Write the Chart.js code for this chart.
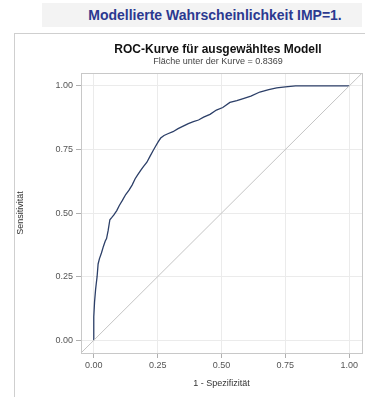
<!DOCTYPE html>
<html>
<head>
<meta charset="utf-8">
<script src="https://cdn.jsdelivr.net/npm/chart.js@4"></script>
<style>
  html, body { margin: 0; padding: 0; background: #fff; overflow: hidden; }
  body { width: 365px; height: 397px; position: relative; font-family: "Liberation Sans", Arial, sans-serif; }
  #head {
    position: absolute; left: 42px; top: 3px; width: 320px; height: 24px;
    background: #f3f3f3; color: #2b3990; font-weight: bold; font-size: 14px;
    line-height: 24px; text-align: center; padding-left: 26px; box-sizing: border-box;
  }
  #panel {
    position: absolute; left: 14px; top: 33px; width: 420px; height: 400px;
    border-left: 1px solid #cfcfcf; border-top: 1px solid #cfcfcf;
  }
  #rocChart { position: absolute; left: 15px; top: 34px; }
</style>
</head>
<body>
<div id="head">Modellierte Wahrscheinlichkeit IMP=1.</div>
<div id="panel"></div>
<canvas id="rocChart" width="406" height="363"></canvas>
<script>
// ROC curve (1 - specificity / sensitivity)
const fpr = [
  0, 0, 0.003, 0.007, 0.010, 0.013, 0.017, 0.022, 0.030, 0.038,
  0.045, 0.050, 0.056, 0.063, 0.070, 0.078, 0.090, 0.100, 0.112, 0.125,
  0.138, 0.150, 0.162, 0.173, 0.185, 0.195, 0.208, 0.220, 0.232, 0.242,
  0.252, 0.262, 0.275, 0.290, 0.310, 0.330, 0.350, 0.370, 0.390, 0.410,
  0.430, 0.455, 0.480, 0.505, 0.533, 0.560, 0.585, 0.615, 0.650, 0.685,
  0.716, 0.750, 0.790, 1.000
];
const tpr = [
  0, 0.092, 0.150, 0.198, 0.225, 0.250, 0.300, 0.320, 0.343, 0.370,
  0.390, 0.400, 0.430, 0.474, 0.482, 0.492, 0.510, 0.530, 0.550, 0.573,
  0.590, 0.610, 0.635, 0.652, 0.670, 0.684, 0.700, 0.723, 0.745, 0.763,
  0.780, 0.795, 0.805, 0.812, 0.820, 0.832, 0.842, 0.852, 0.860, 0.866,
  0.877, 0.888, 0.905, 0.915, 0.935, 0.942, 0.950, 0.960, 0.976, 0.985,
  0.992, 0.996, 1.000, 1.000
];
// reference diagonal runs corner to corner
const diagX = [-0.05, 1.05];
const diagY = [-0.05, 1.05];
const tickVals = [0, 0.25, 0.5, 0.75, 1];

const font = "'Liberation Sans', Arial, sans-serif";

// frame around the plot area
const framePlugin = {
  id: 'frame',
  afterDraw(chart) {
    const a = chart.chartArea;
    const c = chart.ctx;
    c.save();
    c.strokeStyle = '#c8c8c8';
    c.lineWidth = 1;
    c.strokeRect(Math.round(a.left) + 0.5, Math.round(a.top) + 0.5,
      Math.round(a.right - a.left), Math.round(a.bottom - a.top));
    c.restore();
  }
};

const ctx = document.getElementById('rocChart').getContext('2d');
const rocChart = new Chart(ctx, {
  type: 'scatter',
  data: {
    datasets: [{
      data: diagX.map((x, i) => ({ x: x, y: diagY[i] })),
      showLine: true,
      borderColor: '#c4c4c4',
      borderWidth: 1,
      pointRadius: 0
    }, {
      data: fpr.map((x, i) => ({ x: x, y: tpr[i] })),
      showLine: true,
      borderColor: '#2c3f68',
      borderWidth: 1.3,
      pointRadius: 0
    }]
  },
  options: {
    responsive: false,
    animation: false,
    layout: { padding: 0 },
    plugins: {
      legend: { display: false },
      tooltip: { enabled: false },
      title: {
        display: true,
        text: 'ROC-Kurve für ausgewähltes Modell',
        color: '#111',
        font: { size: 12, weight: 'bold', family: font },
        padding: { top: 8, bottom: 0 }
      },
      subtitle: {
        display: true,
        text: 'Fläche unter der Kurve = 0.8369',
        color: '#444',
        font: { size: 9, family: font },
        padding: { top: 0, bottom: 6 }
      }
    },
    scales: {
      x: {
        type: 'linear',
        min: -0.05, max: 1.05,
        afterBuildTicks: s => { s.ticks = tickVals.map(v => ({ value: v })); },
        afterFit: s => { s.height = 44; },
        border: { display: false },
        grid: { color: '#ebebeb', tickColor: '#b0b0b0', tickLength: 5 },
        ticks: {
          color: '#555', font: { size: 9, family: font }, padding: 2,
          maxRotation: 0,
          callback: v => v.toFixed(2)
        },
        title: {
          display: true, text: '1 - Spezifizität', color: '#333',
          font: { size: 9, family: font }, padding: { top: 0, bottom: 8 }
        }
      },
      y: {
        type: 'linear',
        min: -0.05, max: 1.05,
        afterBuildTicks: s => { s.ticks = tickVals.map(v => ({ value: v })); },
        afterFit: s => { s.width = 66; },
        border: { display: false },
        grid: { color: '#ebebeb', tickColor: '#b0b0b0', tickLength: 5 },
        ticks: {
          color: '#555', font: { size: 9, family: font }, padding: 3,
          callback: v => v.toFixed(2)
        },
        title: {
          display: true, text: 'Sensitivität', color: '#333',
          font: { size: 9, family: font }, padding: { top: 0, bottom: 0 }
        }
      },
      // empty right-hand spacer so the titles centre over the wider panel
      yRight: {
        type: 'linear',
        position: 'right',
        afterFit: s => { s.width = 59; },
        border: { display: false },
        grid: { display: false, drawTicks: false },
        ticks: { display: false }
      }
    }
  },
  plugins: [framePlugin]
});
</script>
</body>
</html>
